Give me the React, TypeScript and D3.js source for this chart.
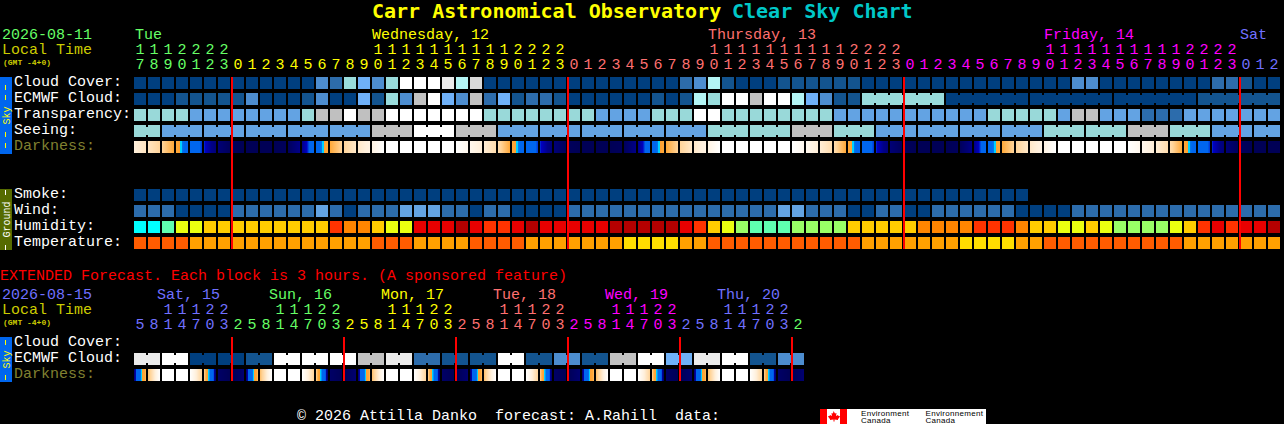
import * as d3 from "d3";

const W = 1284;
const H = 424;
const FONT = "'Liberation Mono', monospace";
const TITLE_FONT = "'DejaVu Sans Mono', monospace";

const CELL = 12;
const PITCH = 14;
const LEFT = 134;

// hourly section
const hours = [
  17, 18, 19, 20, 21, 22, 23,
  0, 1, 2, 3, 4, 5, 6, 7, 8, 9, 10, 11, 12, 13, 14, 15, 16, 17, 18, 19, 20, 21, 22, 23,
  0, 1, 2, 3, 4, 5, 6, 7, 8, 9, 10, 11, 12, 13, 14, 15, 16, 17, 18, 19, 20, 21, 22, 23,
  0, 1, 2, 3, 4, 5, 6, 7, 8, 9, 10, 11, 12, 13, 14, 15, 16, 17, 18, 19, 20, 21, 22, 23,
  0, 1, 2,
];
const dayLabels = ["Tue", "Wednesday, 12", "Thursday, 13", "Friday, 14", "Sat"];
const dayLabelCols = [0, 17, 41, 65, 79];
const dayBreaks = [7, 31, 55, 79];
const dayColors = ["#66ff66", "#ffff00", "#ff7070", "#ff00ff", "#7070ff"];
const midnightCols = [7, 31, 55, 79];

const cloudCover = [
  0, 0, 0, 0, 0, 0, 0, 0, 0, 0, 0, 0, 0,
  3, 2, 5, 4, 3, 5, 10, 10, 10, 9, 6, 8,
  0, 0, 0, 0, 0, 0, 0, 0, 0, 0, 0, 0, 0, 0,
  2, 3, 6, 1, 0, 0, 0, 1, 1, 1, 1, 1, 1,
  0, 0, 0, 0, 0, 0, 0, 0, 0, 0, 0, 0, 0, 0, 0,
  3, 3, 0, 0, 0, 0, 0, 0, 0, 0, 2, 2, 1, 0, 0,
];
// ECMWF: hourly up to col 51, then six hour blocks
const ecmwfCloud = [
  0, 0, 0, 1, 1, 1, 1, 1, 3, 0, 0, 0, 1, 3, 0, 0, 4, 1, 5, 3, 7, 10, 4, 3, 7, 2,
  4, 1, 2, 2, 1, 0, 0, 0, 0, 0, 0, 1, 0, 1, 6, 5, 10, 10, 7, 10, 10, 6, 4, 3, 1, 1,
  5, 0, 0, 0, 1,
];
const ecmwfSizes = [...d3.range(52).map(() => 1), 6, 6, 6, 6, 6];
const transparency = [
  2, 2, 2, 2, 1, 1, 1, 1, 1, 1, 1, 1, 2, 3, 3, 4, 3, 3,
  4, 4, 4, 4, 4, 4, 4, 2, 2, 2, 2, 2, 2, 2, 2, 1, 1, 1, 1, 2, 2, 2, 4, 4,
  2, 2, 2, 2, 2, 2, 2, 2, 1, 1, 1, 1, 1, 1, 1, 1, 1, 1, 1, 2, 2, 2, 2, 2, 1,
  3, 3, 1, 1, 1, 0, 0, 0, 1, 1, 1, 1, 1, 1, 1,
];
const seeing = [2, 1, 1, 1, 1, 1, 3, 4, 3, 1, 1, 1, 1, 1, 2, 2, 3, 2, 1, 1, 1, 1, 2, 2, 3, 2, 1, 1];
const seeingSizes = [2, ...d3.range(26).map(() => 3), 2];
// light level at each cell edge
const darkness = [
  7, 6.6, 6, 5, 2, 1.5, 0.7, 0.2, 0.1, 0.1, 0.1, 0.2, 1, 2, 5, 6, 6.7, 7.2,
  8, 8, 8, 8, 8, 8, 7.5, 6.9, 6.3, 5, 2, 1.5, 0.7, 0.2, 0.1, 0.1, 0.1, 0.2, 1, 2, 5, 6, 6.7, 7.2,
  8, 8, 8, 8, 8, 8, 7.5, 6.9, 6.3, 5, 2, 1.5, 0.7, 0.2, 0.1, 0.1, 0.1, 0.2, 1, 2, 5, 6, 6.7, 7.2,
  8, 8, 8, 8, 8, 8, 7.5, 6.9, 6.3, 5, 2, 1.5, 0.7, 0.2, 0.1, 0.1, 0.1,
];
const smoke = [
  0, 0, 0, 0, 0, 0, 0, 0, 0, 0, 0, 0, 0, 0, 0, 0, 0, 0, 0, 0, 0, 0, 0, 0, 0, 0, 0, 0, 0, 0, 0, 0,
  0, 0, 0, 0, 0, 0, 0, 0, 0, 0, 0, 0, 0, 0, 0, 0, 0, 0, 0, 0, 0, 0, 0, 0, 0, 0, 0, 0, 0, 0, 0, 0,
];
const wind = [
  1, 1, 1, 0, 0, 0, 0, 1, 1, 1, 1, 1, 1, 2, 1, 0, 1, 1, 1, 2, 2, 2, 1, 1, 0, 1, 1, 0, 0, 0, 0,
  1, 1, 1, 1, 1, 1, 1, 1, 1, 1, 1, 1, 1, 1, 1, 2, 2, 1, 1, 1, 0, 0, 1, 1, 0, 0,
  1, 1, 1, 1, 1, 1, 0, 0, 0, 0, 1, 1, 1, 1, 1, 1, 1, 1, 1, 1, 1, 1, 1, 1, 1,
];
const humidity = [
  0, 0, 1, 3, 3, 4, 4, 4, 4, 4, 4, 4, 4, 4, 6, 5, 5, 4, 3, 3, 7,
  7, 7, 8, 7, 6, 6, 7, 8, 7, 7, 7, 7, 7, 8, 8, 8, 8, 8, 7, 6, 4, 3, 2, 1, 1, 1, 2, 2, 2, 2, 4,
  4, 4, 4, 4, 5, 5, 5, 5, 6, 6, 6, 5, 4, 4, 3, 3, 4, 3, 2, 2, 2, 2, 3, 4, 6, 7, 6, 7, 7, 8,
];
const temperature = [
  0, 0, 0, 0, 1, 1, 1, 1, 1, 1, 1, 1, 1, 1, 1, 1, 1, 0, 0, 0, 1, 1, 1, 1, 0, 0, 0, 0,
  1, 1, 1, 1, 1, 1, 1, 2, 2, 2, 2, 1, 1, 0, 0, 0, 0, 0, 0, 0, 0, 0, 0, 0,
  1, 1, 1, 1, 1, 1, 1, 2, 2, 2, 2, 1, 1, 0, 0, 0, 0, 0, 0, 0, 0, 0, 0, 1, 1, 1, 1, 1, 1, 1,
];

// extended section
const extHours = [
  5, 8, 11, 14, 17, 20, 23, 2, 5, 8, 11, 14, 17, 20, 23, 2, 5, 8, 11, 14, 17, 20, 23, 2,
  5, 8, 11, 14, 17, 20, 23, 2, 5, 8, 11, 14, 17, 20, 23, 2, 5, 8, 11, 14, 17, 20, 23, 2,
];
const extDayLabels = ["Sat, 15", "Sun, 16", "Mon, 17", "Tue, 18", "Wed, 19", "Thu, 20"];
const extDayLabelCols = [1.64, 9.64, 17.64, 25.64, 33.64, 41.64];
const extDayBreaks = [7, 15, 23, 31, 39, 47];
const extDayColors = ["#7070ff", "#66ff66", "#ffff00", "#ff7070", "#ff00ff", "#7070ff", "#66ff66"];
const extMidnightCols = [7, 15, 23, 31, 39, 47];
const extEcmwf = [9, 10, 0, 0, 1, 10, 10, 10, 7, 9, 2, 1, 1, 10, 1, 3, 1, 7, 10, 4, 9, 10, 1, 3];
const extEcmwfSizes = extEcmwf.map(() => 2);
const extDarkness = [
  0.6, 5.5, 8, 8, 8, 6, 0.4, 0.1, 0.6, 5.5, 8, 8, 8, 6, 0.4, 0.1, 0.6, 5.5, 8, 8, 8, 6, 0.4, 0.1,
  0.6, 5.5, 8, 8, 8, 6, 0.4, 0.1, 0.6, 5.5, 8, 8, 8, 6, 0.4, 0.1, 0.6, 5.5, 8, 8, 8, 6, 0.4, 0.1, 0.6,
];

const mainLabels = ["Cloud Cover:", "ECMWF Cloud:", "Transparency:", "Seeing:", "Darkness:", "", "", "Smoke:", "Wind:", "Humidity:", "Temperature:"];
const extLabels = ["Cloud Cover:", "ECMWF Cloud:", "Darkness:"];

const cloudColors = ["#003f7f", "#13548f", "#2d6cab", "#4d8dcf", "#6fb1f8", "#99dcdc", "#b3f5f5", "#c2c2c2", "#d9d9d9", "#ebebeb", "#ffffff"];
const skyColors = ["#2c6cac", "#63a3e3", "#99d9d9", "#c0c0c0", "#ffffff"];
const windColors = ["#003f7f", "#2c6cac", "#63a3e3"];
const humidityColors = ["#00ffff", "#5fffb0", "#99ff66", "#eaff10", "#ffcc00", "#ff8500", "#ff3300", "#e80000", "#b50000"];
const tempColors = ["#ff5c00", "#ffa000", "#ffdd00"];

const x = d3.scaleLinear().domain([0, 1]).range([LEFT, LEFT + PITCH]);
const rowY = d3.scaleLinear().domain([0, 1]).range([77, 93]);
const extRowY = d3.scaleLinear().domain([0, 1]).range([337, 353]);

const lightColor = d3
  .scaleLinear<string>()
  .domain([0, 1, 1.4, 1.6, 3, 3.4, 3.5, 3.95, 4, 5, 6, 7, 8])
  .range(["#000050", "#000088", "#0000c0", "#0066ee", "#0066ee", "#0078ee", "#00d0ff", "#00d0ff", "#ffa030", "#ffa838", "#ffd49a", "#fff0dc", "#ffffff"])
  .clamp(true);
const sliceX = d3.scaleLinear().domain([0, CELL]).range([0, 1]);

function Cells({ values, sizes, colors, y }: { values: number[]; sizes?: number[]; colors: string[]; y: number }) {
  let col = 0;
  return (
    <g>
      {values.map((v, i) => {
        const n = sizes ? sizes[i] : 1;
        const start = col;
        col += n;
        return d3.range(n).map((k) => (
          <g key={`${i}-${k}`} fill={colors[v]}>
            <rect x={x(start + k)} y={y} width={CELL} height={CELL} />
            {k < n - 1 && <rect x={x(start + k) + CELL} y={y + 2} width={PITCH - CELL} height={CELL - 4} />}
          </g>
        ));
      })}
    </g>
  );
}

function Darkness({ edges, y }: { edges: number[]; y: number }) {
  return (
    <g>
      {edges.slice(0, -1).map((v, i) => {
        const val = d3.interpolateNumber(v, edges[i + 1]);
        return d3.range(CELL).map((px) => (
          <rect key={`${i}-${px}`} x={x(i) + px} y={y} width={1} height={CELL} fill={lightColor(val(sliceX(px + 0.5)))} />
        ));
      })}
    </g>
  );
}

function SideBar({ y0, y1, fill, color, word, dashes }: { y0: number; y1: number; fill: string; color: string; word: string; dashes: number[] }) {
  const cy = (y0 + y1) / 2;
  return (
    <g>
      <rect x={0} y={y0} width={12} height={y1 - y0} fill={fill} />
      <text transform={`translate(9.5,${cy}) rotate(-90)`} textAnchor="middle" fontSize={10} fill={color}>
        {word}
      </text>
      {dashes.map((d) => (
        <rect key={d} x={5} y={d} width={1} height={5} fill={color} />
      ))}
    </g>
  );
}

function Hours({ values, colorOf, yTens, yUnits }: { values: number[]; colorOf: (c: number) => string; yTens: number; yUnits: number }) {
  return (
    <g textAnchor="middle">
      {values.map((h, i) => (
        <g key={i} fill={colorOf(i)}>
          {h >= 10 && (
            <text x={x(i) + CELL / 2} y={yTens}>
              {Math.floor(h / 10)}
            </text>
          )}
          <text x={x(i) + CELL / 2} y={yUnits}>
            {h % 10}
          </text>
        </g>
      ))}
    </g>
  );
}

export default function App() {
  const dayColor = d3.scaleThreshold<number, string>().domain(dayBreaks).range(dayColors);
  const extDayColor = d3.scaleThreshold<number, string>().domain(extDayBreaks).range(extDayColors);

  return (
    <svg
      width={W}
      height={H}
      viewBox={`0 0 ${W} ${H}`}
      style={{ position: "absolute", left: 0, top: 0, background: "#000" }}
      fontFamily={FONT}
      fontSize={15}
    >
      <text y={18} fontSize={20} fontWeight="bold" fontFamily={TITLE_FONT} xmlSpace="preserve">
        <tspan x={372} fill="#ffff00">Carr Astronomical Observatory</tspan>
        <tspan x={732} fill="#00c8c8">Clear Sky Chart</tspan>
      </text>

      <text x={2} y={39} fill="#66ff66">2026-08-11</text>
      <text x={2} y={54} fill="#cccc00">Local Time</text>
      <text x={3} y={65} fill="#cccc00" fontSize={8} fontWeight="bold">(GMT -4+0)</text>
      {dayLabels.map((d, i) => (
        <text key={d} x={x(dayLabelCols[i]) + (i === 0 ? 1 : 0)} y={39} fill={dayColor(dayLabelCols[i])}>{d}</text>
      ))}
      <Hours values={hours} colorOf={dayColor} yTens={54} yUnits={69} />

      <SideBar y0={77} y1={154} fill="#0066ee" color="#ffff00" word="Sky" dashes={[85, 95, 132, 143]} />
      <SideBar y0={189} y1={250} fill="#566b00" color="#ffffff" word="Ground" dashes={[190, 245]} />
      <SideBar y0={337} y1={382} fill="#0066ee" color="#ffff00" word="Sky" dashes={[340, 375]} />

      {mainLabels.map((l, i) => (
        <text key={i} x={14} y={rowY(i) + 9} fill={l === "Darkness:" ? "#808030" : "#ffffff"}>{l}</text>
      ))}

      <Cells values={cloudCover} colors={cloudColors} y={rowY(0)} />
      <Cells values={ecmwfCloud} sizes={ecmwfSizes} colors={cloudColors} y={rowY(1)} />
      <Cells values={transparency} colors={skyColors} y={rowY(2)} />
      <Cells values={seeing} sizes={seeingSizes} colors={skyColors} y={rowY(3)} />
      <Darkness edges={darkness} y={rowY(4)} />
      <Cells values={smoke} colors={cloudColors} y={rowY(7)} />
      <Cells values={wind} colors={windColors} y={rowY(8)} />
      <Cells values={humidity} colors={humidityColors} y={rowY(9)} />
      <Cells values={temperature} colors={tempColors} y={rowY(10)} />

      {midnightCols.map((c) => (
        <rect key={c} x={x(c) - 1} y={rowY(0)} width={2} height={rowY(11) - rowY(0) - 4} fill="#ff0000" />
      ))}

      <text x={0} y={280} fill="#ff0000">EXTENDED Forecast. Each block is 3 hours. (A sponsored feature)</text>

      <text x={2} y={299} fill="#7070ff">2026-08-15</text>
      <text x={2} y={314} fill="#cccc00">Local Time</text>
      <text x={3} y={325} fill="#cccc00" fontSize={8} fontWeight="bold">(GMT -4+0)</text>
      {extDayLabels.map((d, i) => (
        <text key={d} x={x(extDayLabelCols[i])} y={299} fill={extDayColors[i]}>{d}</text>
      ))}
      <Hours values={extHours} colorOf={extDayColor} yTens={314} yUnits={329} />

      {extLabels.map((l, i) => (
        <text key={l} x={14} y={extRowY(i) + 9} fill={l === "Darkness:" ? "#808030" : "#ffffff"}>{l}</text>
      ))}
      <Cells values={extEcmwf} sizes={extEcmwfSizes} colors={cloudColors} y={extRowY(1)} />
      <Darkness edges={extDarkness} y={extRowY(2)} />
      {extMidnightCols.map((c) => (
        <rect key={c} x={x(c) - 1} y={extRowY(0)} width={2} height={extRowY(3) - extRowY(0) - 4} fill="#ff0000" />
      ))}

      <text x={297} y={419.5} fill="#ffffff" xmlSpace="preserve">© 2026 Attilla Danko  forecast: A.Rahill  data:</text>

      <rect x={820} y={409} width={166} height={15} fill="#ffffff" />
      <rect x={820} y={409} width={7} height={15} fill="#ff0000" />
      <rect x={840} y={409} width={7} height={15} fill="#ff0000" />
      <path d="M833.5 411l1.5 2.5 1.5-.5-.5 3 2-1 .5 1 1.5 0-1 2-1 1 0 1-3.5-.5 0 2-1 0 0-2-3.5.5 0-1-1-1-1-2 1.5 0 .5-1 2 1-.5-3 1.5.5z" fill="#ff0000" />
      <g fill="#000" fontSize={8} fontFamily="'Liberation Sans', sans-serif" letterSpacing={0.3}>
        <text x={861} y={416}>Environment</text>
        <text x={861} y={423}>Canada</text>
        <text x={925.5} y={416}>Environnement</text>
        <text x={925.5} y={423}>Canada</text>
      </g>
    </svg>
  );
}
